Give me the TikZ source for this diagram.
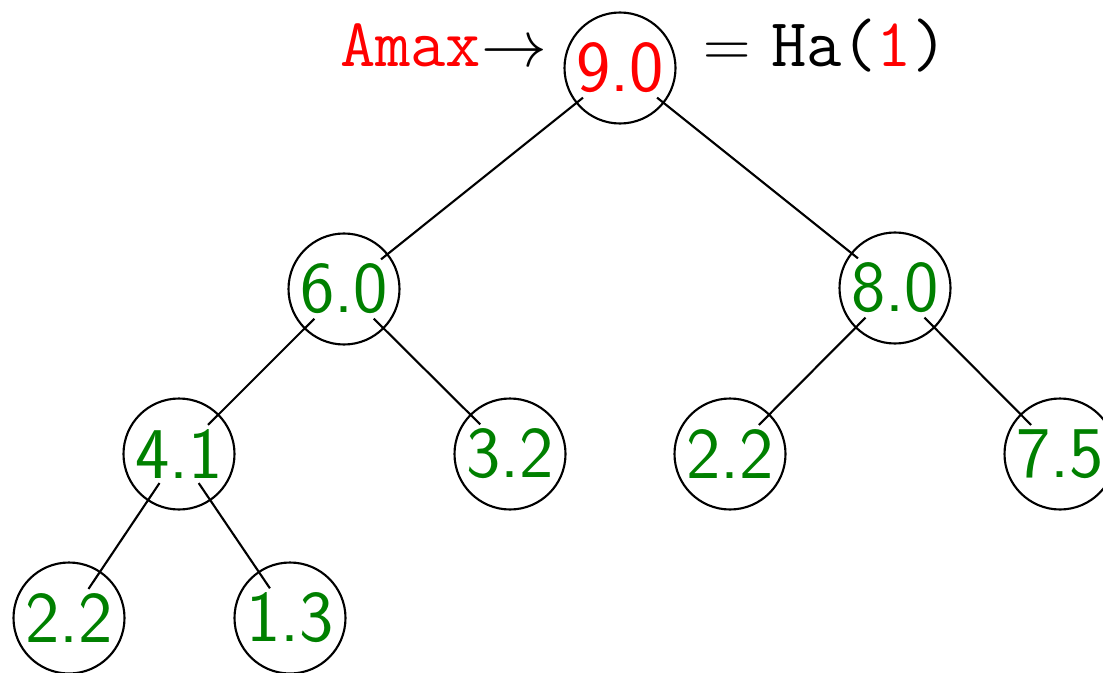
\RequirePackage{fix-cm}
\documentclass[tikz,border=0pt]{standalone}
\definecolor{numgreen}{RGB}{0,128,0}
\newcommand{\mathsz}[1]{{\fontsize{18.7}{22}\selectfont$#1$}}
\begin{document}
\begin{tikzpicture}[line width=.6pt,
 num/.style={font=\huge\sffamily,text=numgreen,inner sep=1pt},
 lbl/.style={font=\fontsize{19.5}{24}\selectfont,inner sep=0pt}]
 \useasboundingbox (0,0) rectangle (11.03,6.72);
 \node[num,text=red] (r) at (6.20,6.04) {9.0};
 \node[num] (a) at (3.44,3.83) {6.0};
 \node[num] (b) at (8.95,3.84) {8.0};
 \node[num] (c) at (1.79,2.18) {4.1};
 \node[num] (d) at (5.10,2.18) {3.2};
 \node[num] (e) at (7.30,2.18) {2.2};
 \node[num] (f) at (10.60,2.18) {7.5};
 \node[num] (g) at (0.69,0.54) {2.2};
 \node[num] (h) at (2.90,0.54) {1.3};
 \foreach \n in {r,a,b,c,d,e,f,g,h}
  \draw (\n.center) circle[radius=.555];
 \draw (r) -- (a) (r) -- (b);
 \draw (a) -- (c) (a) -- (d);
 \draw (b) -- (e) (b) -- (f);
 \draw (c) -- (g) (c) -- (h);
 \node[lbl,anchor=base east] (amax) at (5.48,6.05) {\texttt{\textcolor{red}{Amax}}\mathsz{\rightarrow}};
 \node[lbl,anchor=base west] (ha) at (7.02,6.05) {\mathsz{=} \texttt{Ha(\textcolor{red}{1})}};
\end{tikzpicture}
\end{document}
